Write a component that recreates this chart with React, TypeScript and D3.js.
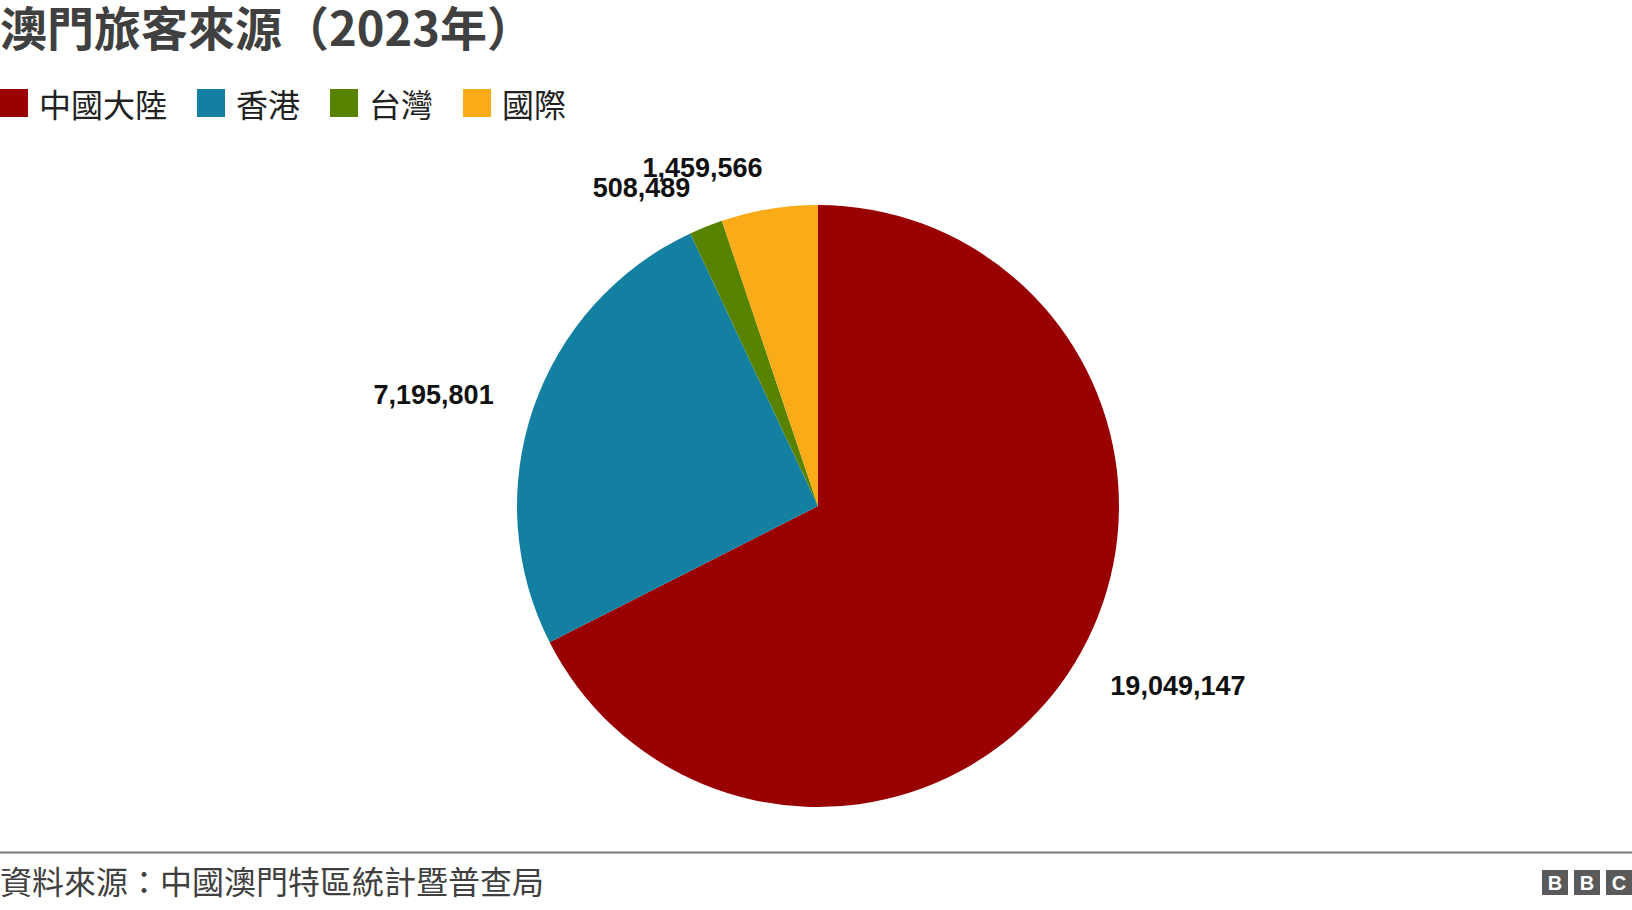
import React, { useRef, useEffect } from 'react'
import * as d3 from 'd3'

const categories = ['中國大陸', '香港', '台灣', '國際']
const visitors = [19049147, 7195801, 508489, 1459566]
const colors = ['#990000', '#1380A1', '#588300', '#FAAB18']

const title = '澳門旅客來源（2023年）'
const source = '資料來源：中國澳門特區統計暨普查局'

const width = 1632
const height = 910

export default function App() {
  const svgRef = useRef<SVGSVGElement>(null)

  useEffect(() => {
    if (!svgRef.current) return
    d3.select(svgRef.current).selectAll('*').remove()

    const svg = d3.select(svgRef.current)
      .attr('viewBox', [0, 0, width, height])

    const cjk = "'Noto Sans CJK TC', 'Noto Sans', sans-serif"
    const num = "'Liberation Sans', Arial, sans-serif"

    // Title
    svg.append('text')
      .attr('x', 0)
      .attr('y', 46)
      .attr('font-family', cjk)
      .attr('font-size', '47px')
      .attr('font-weight', 'bold')
      .attr('fill', '#404040')
      .text(title)

    // Legend
    const legend = svg.append('g').attr('transform', 'translate(0, 89)')
    let lx = 0
    categories.forEach((c, i) => {
      legend.append('rect')
        .attr('x', lx)
        .attr('y', 0)
        .attr('width', 28)
        .attr('height', 28)
        .attr('fill', colors[i])
      const t = legend.append('text')
        .attr('x', lx + 39)
        .attr('y', 28)
        .attr('font-family', cjk)
        .attr('font-size', '32px')
        .attr('fill', '#222')
        .text(c)
      const w = (t.node() as SVGTextElement).getComputedTextLength()
      lx += 39 + w + 30
    })

    // Pie
    const cx = 818
    const cy = 506
    const radius = 301
    const labelRadius = 343

    const pie = d3.pie<number>().sort(null).value(d => d)
    const arcs = pie(visitors)
    const arc = d3.arc<d3.PieArcDatum<number>>().innerRadius(0).outerRadius(radius)

    const g = svg.append('g').attr('transform', `translate(${cx}, ${cy})`)

    g.selectAll('path.slice')
      .data(arcs)
      .join('path')
      .attr('class', 'slice')
      .attr('d', arc)
      .attr('fill', (d, i) => colors[i])

    // Value labels along the mid-angle of each slice
    g.selectAll('text.label')
      .data(arcs)
      .join('text')
      .attr('class', 'label')
      .each(function (d) {
        const mid = (d.startAngle + d.endAngle) / 2
        const x = Math.sin(mid) * labelRadius
        const y = -Math.cos(mid) * labelRadius
        d3.select(this)
          .attr('x', x)
          .attr('y', y)
          .attr('text-anchor', x < 0 ? 'end' : 'start')
      })
      .attr('dy', '0.35em')
      .attr('font-family', num)
      .attr('font-size', '27px')
      .attr('font-weight', 'bold')
      .attr('fill', '#111')
      .text(d => d3.format(',')(d.data))

    // Footer rule
    svg.append('line')
      .attr('x1', 0)
      .attr('x2', width)
      .attr('y1', 852.5)
      .attr('y2', 852.5)
      .attr('stroke', '#777')
      .attr('stroke-width', 2)

    svg.append('text')
      .attr('x', 0)
      .attr('y', 894)
      .attr('font-family', cjk)
      .attr('font-size', '32px')
      .attr('fill', '#404040')
      .text(source)

    // BBC blocks
    const logo = svg.append('g').attr('transform', 'translate(1542, 870)')
    ;['B', 'B', 'C'].forEach((ch, i) => {
      logo.append('rect')
        .attr('x', i * 32)
        .attr('y', 0)
        .attr('width', 26)
        .attr('height', 25)
        .attr('fill', '#5a5a5a')
      logo.append('text')
        .attr('x', i * 32 + 13)
        .attr('y', 20)
        .attr('text-anchor', 'middle')
        .attr('font-family', num)
        .attr('font-size', '20px')
        .attr('font-weight', 'bold')
        .attr('fill', '#fff')
        .text(ch)
    })
  }, [])

  return (
    <svg
      ref={svgRef}
      width={width}
      height={height}
      style={{ position: 'absolute', left: 0, top: 0, background: '#fff' }}
    />
  )
}
